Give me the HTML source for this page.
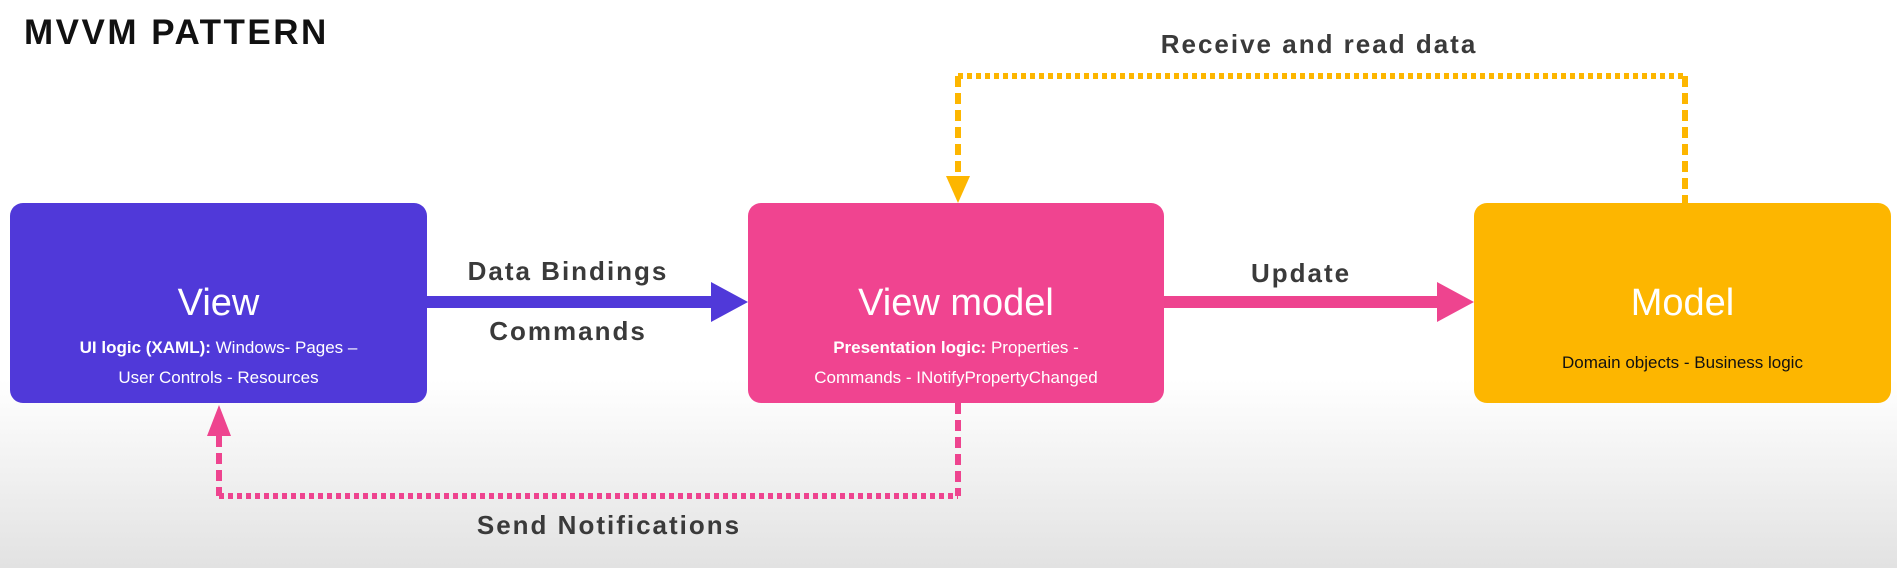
<!DOCTYPE html>
<html><head><style>
body{margin:0;width:1897px;height:568px;overflow:hidden;background:linear-gradient(#fff 0,#fff 380px,#e2e2e2 568px);font-family:"Liberation Sans",sans-serif;position:relative}
.t{position:absolute;white-space:nowrap}
.box{position:absolute;top:203px;height:200px;border-radius:13px;color:#fff;text-align:center}
.h{position:absolute;left:0;right:0;top:78px;font-size:38px;line-height:44px}
.s{position:absolute;left:0;right:0;top:130px;font-size:17px;line-height:30px}
.lbl{font-size:26px;color:#333;transform:translateX(-50%);letter-spacing:2px;font-weight:bold;-webkit-text-stroke:0}
</style></head><body>
<div class="t" style="left:24px;top:13px;font-size:35px;font-weight:bold;color:#111;letter-spacing:2.5px">MVVM PATTERN</div>
<svg width="1897" height="568" style="position:absolute;left:0;top:0">
<g fill="none" stroke="#fdb600" stroke-width="6">
<path d="M958 76 H1685" stroke-dasharray="5 4"/>
<path d="M958 76 V176 M1685 76 V203" stroke-dasharray="11 6"/>
</g>
<polygon points="946,176 970,176 958,203" fill="#fdb600"/>
<g fill="none" stroke="#ee448f" stroke-width="6">
<path d="M219 496 H958" stroke-dasharray="5 4"/>
<path d="M958 403 V496 M219 436 V496" stroke-dasharray="11 6"/>
</g>
<polygon points="207,436 231,436 219,405" fill="#ee448f"/>
<rect x="427" y="296" width="286" height="12" fill="#5039d9"/>
<polygon points="711,282 748,302 711,322" fill="#5039d9"/>
<rect x="1164" y="296" width="276" height="12" fill="#ee448f"/>
<polygon points="1437,282 1474,302 1437,322" fill="#ee448f"/>
</svg>
<div class="box" style="left:10px;width:417px;background:#5039d9"><div class="h">View</div><div class="s"><b>UI logic (XAML):</b> Windows- Pages –<br>User Controls - Resources</div></div>
<div class="box" style="left:748px;width:416px;background:#f04490"><div class="h">View model</div><div class="s"><b>Presentation logic:</b> Properties -<br>Commands - INotifyPropertyChanged</div></div>
<div class="box" style="left:1474px;width:417px;background:#fdb600"><div class="h">Model</div><div class="s" style="top:145px;color:#111">Domain objects - Business logic</div></div>
<div class="t lbl" style="left:568px;top:256px;color:#3a3a3a">Data Bindings</div>
<div class="t lbl" style="left:568px;top:316px;color:#3a3a3a">Commands</div>
<div class="t lbl" style="left:1301px;top:258px;color:#3a3a3a">Update</div>
<div class="t lbl" style="left:1319px;top:29px;color:#3a3a3a">Receive and read data</div>
<div class="t lbl" style="left:609px;top:510px;color:#3a3a3a">Send Notifications</div>
</body></html>
